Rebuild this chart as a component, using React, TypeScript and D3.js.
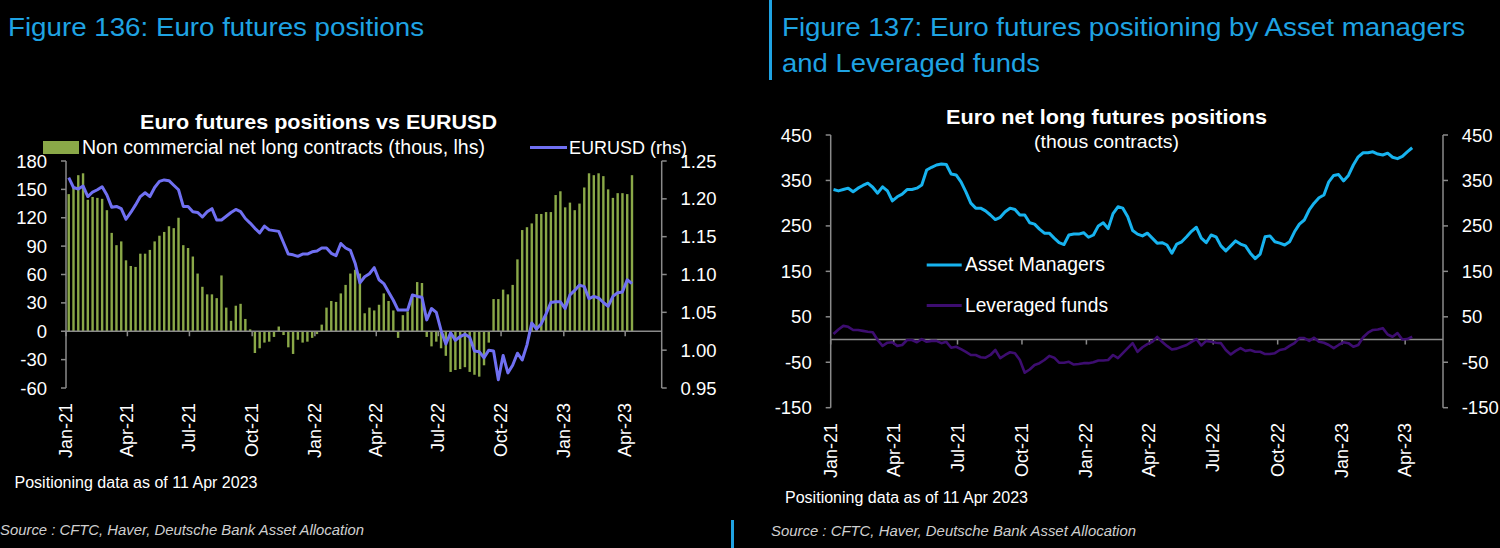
import React from 'react';
import * as d3 from 'd3';

// ---------- Data (weekly, Tuesdays from 5 Jan 2021 to 11 Apr 2023) ----------
const START_DATE = new Date(2021, 0, 5);
const WEEK_COUNT = 119;

// Non commercial net long contracts (thous)
const netLong: number[] = [
  145, 152, 165, 167, 139, 142, 141, 140, 128, 104, 91, 95, 75, 69, 68, 82, 82, 86, 95, 101,
  105, 111, 109, 120, 91, 88, 79, 61, 47, 39, 39, 35, 59, 25, 11, 27, 29, 13, 2, -23,
  -18, -12, -11, -6, 5, -4, -17, -24, -9, -12, -11, -7, -3, 7, 25, 32, 31, 40, 49, 61,
  65, 61, 19, 25, 22, 28, 40, 32, 22, -7, 17, 21, 39, 52, 51, -6, -16, -11, -18, -26,
  -43, -41, -40, -38, -43, -46, -48, -36, -12, 34, 34, 44, 39, 49, 76, 107, 110, 114, 124, 124,
  126, 126, 144, 148, 131, 136, 128, 135, 152, 167, 165, 167, 164, 150, 141, 146, 146, 145, 165,
];

// EURUSD (rhs)
const eurusd: number[] = [
  1.228, 1.215, 1.213, 1.217, 1.203, 1.209, 1.212, 1.216, 1.205, 1.189, 1.19, 1.187, 1.173, 1.182, 1.192, 1.203, 1.208, 1.203, 1.215, 1.223,
  1.225, 1.224, 1.218, 1.212, 1.19, 1.19, 1.183, 1.182, 1.176, 1.183, 1.187, 1.172, 1.172, 1.177, 1.182, 1.186, 1.183, 1.174, 1.168, 1.161,
  1.155, 1.164, 1.159, 1.158, 1.157, 1.142, 1.127, 1.126, 1.124, 1.127, 1.127, 1.13, 1.131, 1.135, 1.135, 1.128, 1.125, 1.141, 1.135, 1.132,
  1.115, 1.089, 1.097, 1.101, 1.109, 1.093, 1.088, 1.077, 1.066, 1.053, 1.053, 1.053, 1.073, 1.071, 1.07, 1.04, 1.055, 1.05, 1.026, 1.008,
  1.023, 1.013, 1.018, 1.021, 1.017, 0.999, 0.998, 0.99, 1.0, 0.999, 0.961, 0.993, 0.97, 0.98, 0.996, 0.987, 1.007, 1.036, 1.028, 1.035,
  1.048, 1.063, 1.064, 1.064, 1.055, 1.073, 1.079, 1.086, 1.084, 1.068, 1.071, 1.069, 1.063, 1.058, 1.071, 1.076, 1.077, 1.093, 1.088,
];

// Asset managers net long (thous contracts)
const assetManagers: number[] = [
  330, 327, 330, 333, 325, 333, 339, 344, 335, 322, 336, 327, 305, 314, 320, 330, 330, 333, 340, 373,
  379, 384, 386, 385, 364, 362, 347, 325, 300, 289, 289, 283, 274, 264, 269, 281, 289, 286, 274, 274,
  257, 254, 243, 234, 234, 223, 213, 209, 230, 232, 232, 235, 225, 230, 250, 257, 244, 277, 292, 289,
  270, 240, 232, 228, 234, 223, 212, 213, 208, 190, 210, 215, 226, 238, 247, 223, 213, 230, 226, 206,
  195, 206, 217, 210, 206, 190, 178, 188, 226, 228, 215, 212, 208, 215, 237, 254, 263, 285, 300, 312,
  318, 347, 361, 363, 349, 361, 384, 402, 411, 411, 413, 408, 406, 410, 401, 398, 403, 413, 422,
];

// Leveraged funds net long (thous contracts)
const leveragedFunds: number[] = [
  12, 22, 30, 28, 21, 21, 19, 17, 16, -1, -14, -7, -6, -14, -12, -1, -1, -6, 1, -5,
  -3, -3, -8, -5, -18, -16, -21, -27, -34, -34, -39, -40, -34, -23, -41, -34, -28, -30, -45, -73,
  -66, -56, -52, -45, -36, -40, -51, -51, -49, -55, -54, -52, -52, -50, -46, -46, -45, -34, -41, -30,
  -19, -8, -27, -17, -10, -5, 6, -5, -14, -22, -20, -16, -12, -5, 1, -13, -3, -5, -7, -8,
  -23, -33, -25, -19, -25, -23, -27, -27, -32, -32, -30, -23, -21, -14, -8, 3, 3, -3, 4, -5,
  -7, -12, -19, -12, -6, -8, -16, -12, 5, 15, 21, 22, 25, 11, 6, 14, 0, 1, 6,
];

const leftTicksL = [-60, -30, 0, 30, 60, 90, 120, 150, 180];
const leftTicksR = [0.95, 1.0, 1.05, 1.1, 1.15, 1.2, 1.25];
const rightTicks = [-150, -50, 50, 150, 250, 350, 450];

// ---------- Style ----------
const FONT = "'Liberation Sans', Arial, Helvetica, sans-serif";
const BLUE_TITLE = '#1fa3e3';
const GREEN = '#8aa848';
const EUR_COL = '#7070f2';
const AM_COL = '#17b3ef';
const LF_COL = '#3d0d70';
const AXIS = '#8a8a8a';
const WHITE = '#ffffff';
const SRC = '#cfcfcf';

const weeks = d3.range(WEEK_COUNT).map((i) => d3.timeDay.offset(START_DATE, 7 * i));
const dateDomain: [Date, Date] = [new Date(2021, 0, 1), new Date(2023, 4, 25)];
const quarterTicks = d3.timeMonths(new Date(2021, 0, 1), new Date(2023, 3, 2), 3);
const fmt = d3.timeFormat('%b-%y');

export default function App() {
  // Left chart scales
  const xL = d3.scaleTime().domain(dateDomain).range([66, 662]);
  const yL = d3.scaleLinear().domain([-60, 180]).range([388, 161]);
  const yLR = d3.scaleLinear().domain([0.95, 1.25]).range([388, 161]);

  // Right chart scales
  const xR = d3.scaleTime().domain(dateDomain).range([830.7, 1443]);
  const yR = d3.scaleLinear().domain([-150, 450]).range([407.7, 135]);

  const eurLine = d3
    .line<number>()
    .x((_, i) => xL(weeks[i]))
    .y((d) => yLR(d))
    .curve(d3.curveLinear);
  const amLine = d3.line<number>().x((_, i) => xR(weeks[i])).y((d) => yR(d));
  const lfLine = d3.line<number>().x((_, i) => xR(weeks[i])).y((d) => yR(d));

  const barW = 2.4;
  const y0L = yL(0);
  const y0R = yR(0);

  return (
    <svg
      width={1500}
      height={548}
      style={{ position: 'absolute', left: 0, top: 0, display: 'block' }}
      fontFamily={FONT}
    >
      <rect x={0} y={0} width={1500} height={548} fill="#000" />

      {/* ---------- Left panel ---------- */}
      <text x={8} y={36} fill={BLUE_TITLE} fontSize={26} textLength={416} lengthAdjust="spacingAndGlyphs">
        Figure 136: Euro futures positions
      </text>
      <text x={140} y={129} fill={WHITE} fontSize={21} fontWeight="bold" textLength={357} lengthAdjust="spacingAndGlyphs">
        Euro futures positions vs EURUSD
      </text>

      {/* legend */}
      <rect x={43} y={141} width={36} height={13} fill={GREEN} />
      <text x={82} y={154} fill={WHITE} fontSize={19.5} textLength={403} lengthAdjust="spacingAndGlyphs">
        Non commercial net long contracts (thous, lhs)
      </text>
      <line x1={530} x2={567} y1={147.5} y2={147.5} stroke={EUR_COL} strokeWidth={3} />
      <text x={569} y={154} fill={WHITE} fontSize={19} textLength={118} lengthAdjust="spacingAndGlyphs">
        EURUSD (rhs)
      </text>

      {/* bars */}
      {netLong.map((v, i) => {
        const x = xL(weeks[i]);
        const y = yL(v);
        return (
          <rect
            key={'b' + i}
            x={x - barW / 2}
            y={Math.min(y, y0L)}
            width={barW}
            height={Math.abs(y0L - y)}
            fill={GREEN}
          />
        );
      })}

      {/* axes left chart */}
      <line x1={66} x2={66} y1={161} y2={388} stroke={AXIS} strokeWidth={1.5} />
      <line x1={661.7} x2={661.7} y1={161} y2={388} stroke={AXIS} strokeWidth={1.5} />
      <line x1={66} x2={661.7} y1={y0L} y2={y0L} stroke={AXIS} strokeWidth={1.5} />
      {leftTicksL.map((t) => (
        <g key={'lt' + t}>
          <line x1={61} x2={66} y1={yL(t)} y2={yL(t)} stroke={AXIS} strokeWidth={1.5} />
          <text x={47} y={yL(t) + 6.5} fill={WHITE} fontSize={18.5} textAnchor="end">
            {t}
          </text>
        </g>
      ))}
      {leftTicksR.map((t) => (
        <g key={'rt' + t}>
          <line x1={661.7} x2={666.7} y1={yLR(t)} y2={yLR(t)} stroke={AXIS} strokeWidth={1.5} />
          <text x={680.5} y={yLR(t) + 6.5} fill={WHITE} fontSize={18.5} textAnchor="start">
            {t.toFixed(2)}
          </text>
        </g>
      ))}
      {quarterTicks.map((d, i) => {
        const x = xL(d);
        return (
          <g key={'xq' + i}>
            <line x1={x} x2={x} y1={y0L} y2={y0L + 5} stroke={AXIS} strokeWidth={1.5} />
            <text
              transform={`translate(${x},403) rotate(-90)`}
              fill={WHITE}
              fontSize={18}
              textAnchor="end"
              dominantBaseline="central"
            >
              {fmt(d)}
            </text>
          </g>
        );
      })}

      {/* EURUSD line */}
      <path d={eurLine(eurusd) || ''} fill="none" stroke={EUR_COL} strokeWidth={3} strokeLinejoin="round" />

      <text x={14.5} y={488} fill={WHITE} fontSize={16} textLength={243} lengthAdjust="spacingAndGlyphs">
        Positioning data as of 11 Apr 2023
      </text>
      <text x={0} y={535} fill={SRC} fontSize={14.5} fontStyle="italic" textLength={364} lengthAdjust="spacingAndGlyphs">
        Source : CFTC, Haver, Deutsche Bank Asset Allocation
      </text>
      <rect x={731} y={520} width={3} height={28} fill={BLUE_TITLE} />

      {/* ---------- Right panel ---------- */}
      <rect x={769} y={0} width={3} height={80} fill={BLUE_TITLE} />
      <text x={782} y={36} fill={BLUE_TITLE} fontSize={26} textLength={683} lengthAdjust="spacingAndGlyphs">
        Figure 137: Euro futures positioning by Asset managers
      </text>
      <text x={782} y={72} fill={BLUE_TITLE} fontSize={26} textLength={258} lengthAdjust="spacingAndGlyphs">
        and Leveraged funds
      </text>

      <text x={1106.5} y={124} fill={WHITE} fontSize={20} fontWeight="bold" textAnchor="middle" textLength={321} lengthAdjust="spacingAndGlyphs">
        Euro net long futures positions
      </text>
      <text x={1106.5} y={148} fill={WHITE} fontSize={17.5} textAnchor="middle" textLength={145} lengthAdjust="spacingAndGlyphs">
        (thous contracts)
      </text>

      {/* axes right chart */}
      <line x1={830.7} x2={830.7} y1={135} y2={407.7} stroke={AXIS} strokeWidth={1.5} />
      <line x1={1443} x2={1443} y1={135} y2={407.7} stroke={AXIS} strokeWidth={1.5} />
      <line x1={830.7} x2={1443} y1={y0R} y2={y0R} stroke={AXIS} strokeWidth={1.5} />
      {rightTicks.map((t) => (
        <g key={'rr' + t}>
          <line x1={825.7} x2={830.7} y1={yR(t)} y2={yR(t)} stroke={AXIS} strokeWidth={1.5} />
          <line x1={1443} x2={1448} y1={yR(t)} y2={yR(t)} stroke={AXIS} strokeWidth={1.5} />
          <text x={811.7} y={yR(t) + 6.5} fill={WHITE} fontSize={18.5} textAnchor="end">
            {t}
          </text>
          <text x={1461.7} y={yR(t) + 6.5} fill={WHITE} fontSize={18.5} textAnchor="start">
            {t}
          </text>
        </g>
      ))}
      {quarterTicks.map((d, i) => {
        const x = xR(d);
        return (
          <g key={'xr' + i}>
            <line x1={x} x2={x} y1={y0R} y2={y0R + 5} stroke={AXIS} strokeWidth={1.5} />
            <text
              transform={`translate(${x},423) rotate(-90)`}
              fill={WHITE}
              fontSize={18}
              textAnchor="end"
              dominantBaseline="central"
            >
              {fmt(d)}
            </text>
          </g>
        );
      })}

      <path d={lfLine(leveragedFunds) || ''} fill="none" stroke={LF_COL} strokeWidth={2.6} strokeLinejoin="round" />
      <path d={amLine(assetManagers) || ''} fill="none" stroke={AM_COL} strokeWidth={3} strokeLinejoin="round" />

      {/* right legend */}
      <line x1={926.7} x2={961.7} y1={265} y2={265} stroke={AM_COL} strokeWidth={3} />
      <text x={965} y={271} fill={WHITE} fontSize={19.5} textLength={140} lengthAdjust="spacingAndGlyphs">
        Asset Managers
      </text>
      <line x1={926.7} x2={961.7} y1={305.5} y2={305.5} stroke={LF_COL} strokeWidth={3} />
      <text x={965} y={311.7} fill={WHITE} fontSize={19.5} textLength={143} lengthAdjust="spacingAndGlyphs">
        Leveraged funds
      </text>

      <text x={785} y={503} fill={WHITE} fontSize={16} textLength={243} lengthAdjust="spacingAndGlyphs">
        Positioning data as of 11 Apr 2023
      </text>
      <text x={771} y={536} fill={SRC} fontSize={14.5} fontStyle="italic" textLength={365} lengthAdjust="spacingAndGlyphs">
        Source : CFTC, Haver, Deutsche Bank Asset Allocation
      </text>
    </svg>
  );
}
